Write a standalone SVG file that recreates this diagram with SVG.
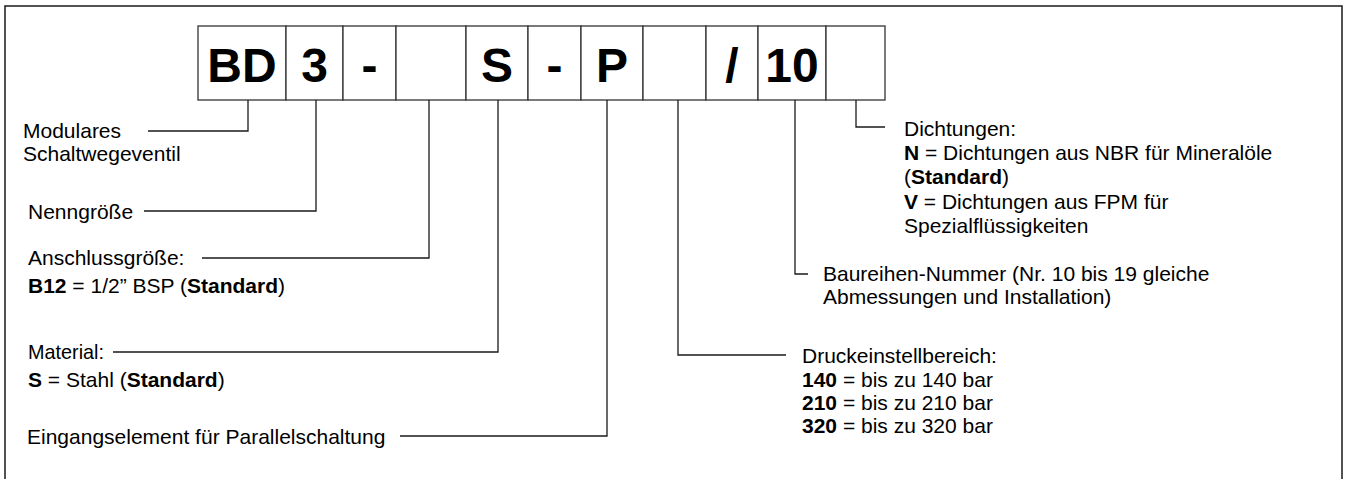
<svg xmlns="http://www.w3.org/2000/svg" width="1346" height="479" viewBox="0 0 1346 479">
<style>
.frame{fill:none;stroke:#1a1a1a;stroke-width:1.5}
.box{fill:#fff;stroke:#333;stroke-width:1.3}
.code{font-family:"Liberation Sans",Arial,sans-serif;font-weight:bold;font-size:48px;fill:#000;text-anchor:middle}
.lbl{font-family:"Liberation Sans",Arial,sans-serif;font-size:21px;fill:#000}
.b{font-weight:bold}
.conn{fill:none;stroke:#1a1a1a;stroke-width:1.3}
</style>
<rect width="1346" height="479" fill="#fff"/>
<path class="frame" d="M5,479 V6 H1342 V479"/>
<g id="code">
  <g id="box-bd"><rect class="box" x="198" y="26" width="88" height="74"/><text class="code" x="242" y="82">BD</text></g>
  <g id="box-3"><rect class="box" x="286" y="26" width="57" height="74"/><text class="code" x="314.5" y="82">3</text></g>
  <g id="box-dash1"><rect class="box" x="343" y="26" width="53" height="74"/><text class="code" x="369.5" y="82">-</text></g>
  <g id="box-size"><rect class="box" x="396" y="26" width="70" height="74"/></g>
  <g id="box-s"><rect class="box" x="466" y="26" width="62" height="74"/><text class="code" x="497" y="82">S</text></g>
  <g id="box-dash2"><rect class="box" x="528" y="26" width="53" height="74"/><text class="code" x="554.5" y="82">-</text></g>
  <g id="box-p"><rect class="box" x="581" y="26" width="62" height="74"/><text class="code" x="612" y="82">P</text></g>
  <g id="box-pressure"><rect class="box" x="643" y="26" width="63" height="74"/></g>
  <g id="box-slash"><rect class="box" x="706" y="26" width="52" height="74"/><text class="code" x="732" y="82">/</text></g>
  <g id="box-10"><rect class="box" x="758" y="26" width="68" height="74"/><text class="code" x="792" y="82">10</text></g>
  <g id="box-seal"><rect class="box" x="826" y="26" width="59" height="74"/></g>
</g>
<g id="connectors">
  <path class="conn" d="M248,100 V131 H148"/>
  <path class="conn" d="M316,100 V211 H144"/>
  <path class="conn" d="M429,100 V258 H202"/>
  <path class="conn" d="M498,100 V352 H113"/>
  <path class="conn" d="M607,100 V436 H400"/>
  <path class="conn" d="M678,100 V355 H786"/>
  <path class="conn" d="M795,100 V274 H808"/>
  <path class="conn" d="M856,100 V127 H885"/>
</g>
<g id="n-modulares"><text class="lbl" x="23" y="138">Modulares</text><text class="lbl" x="23" y="161">Schaltwegeventil</text></g>
<g id="n-nenngroesse"><text class="lbl" x="28" y="219">Nenngröße</text></g>
<g id="n-anschluss"><text class="lbl" x="28" y="265">Anschlussgröße:</text><text class="lbl" x="28" y="293"><tspan class="b">B12</tspan> = 1/2” BSP (<tspan class="b">Standard</tspan>)</text></g>
<g id="n-material"><text class="lbl" x="28" y="359" textLength="76" lengthAdjust="spacingAndGlyphs">Material:</text><text class="lbl" x="28" y="387"><tspan class="b">S</tspan> = Stahl (<tspan class="b">Standard</tspan>)</text></g>
<g id="n-eingang"><text class="lbl" x="27" y="444">Eingangselement für Parallelschaltung</text></g>
<g id="n-druck"><text class="lbl" x="802" y="363">Druckeinstellbereich:</text><text class="lbl" x="802" y="387"><tspan class="b">140</tspan> = bis zu 140 bar</text><text class="lbl" x="802" y="410"><tspan class="b">210</tspan> = bis zu 210 bar</text><text class="lbl" x="802" y="433"><tspan class="b">320</tspan> = bis zu 320 bar</text></g>
<g id="n-baureihe"><text class="lbl" x="823" y="281">Baureihen-Nummer (Nr. 10 bis 19 gleiche</text><text class="lbl" x="823" y="304">Abmessungen und Installation)</text></g>
<g id="n-dichtung"><text class="lbl" x="904" y="136">Dichtungen:</text><text class="lbl" x="904" y="160"><tspan class="b">N</tspan> = Dichtungen aus NBR für Mineralöle</text><text class="lbl" x="904" y="184">(<tspan class="b">Standard</tspan>)</text><text class="lbl" x="904" y="209"><tspan class="b">V</tspan> = Dichtungen aus FPM für</text><text class="lbl" x="904" y="233">Spezialflüssigkeiten</text></g>
</svg>
